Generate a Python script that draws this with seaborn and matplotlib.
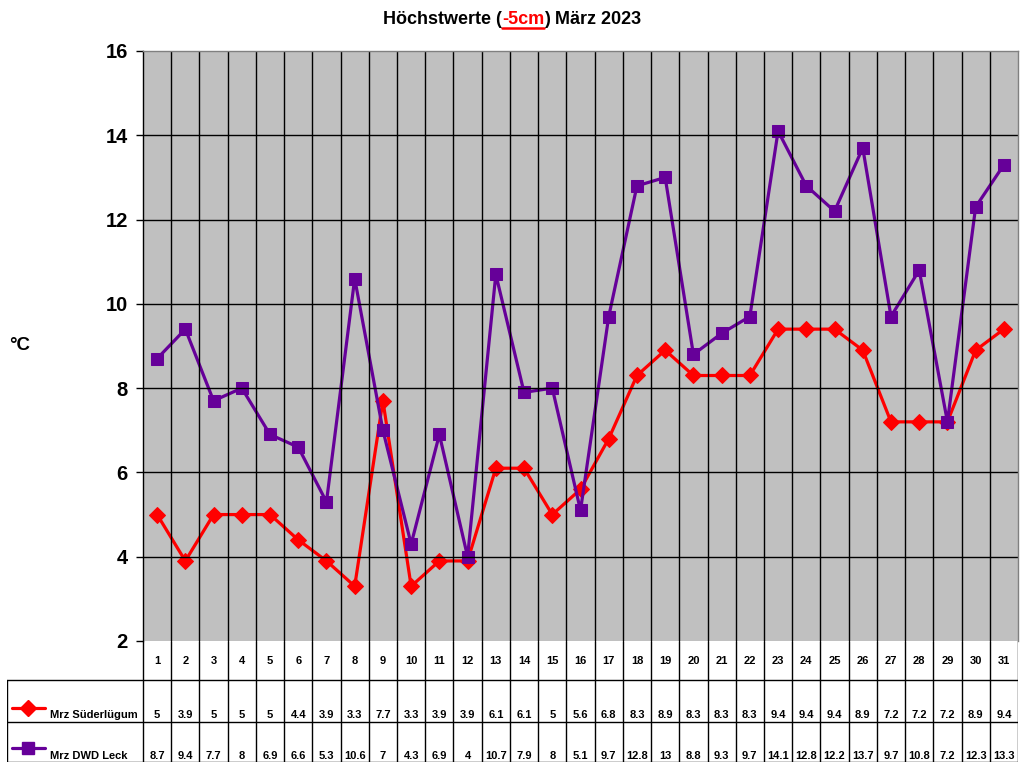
import numpy as np
import pandas as pd
import matplotlib
matplotlib.use("Agg")
import matplotlib.pyplot as plt
from matplotlib.lines import Line2D
import seaborn as sns

days = list(range(1, 32))
suederluegum = [5, 3.9, 5, 5, 5, 4.4, 3.9, 3.3, 7.7, 3.3, 3.9, 3.9, 6.1, 6.1, 5, 5.6,
                6.8, 8.3, 8.9, 8.3, 8.3, 8.3, 9.4, 9.4, 9.4, 8.9, 7.2, 7.2, 7.2, 8.9, 9.4]
dwd_leck = [8.7, 9.4, 7.7, 8, 6.9, 6.6, 5.3, 10.6, 7, 4.3, 6.9, 4, 10.7, 7.9, 8, 5.1,
            9.7, 12.8, 13, 8.8, 9.3, 9.7, 14.1, 12.8, 12.2, 13.7, 9.7, 10.8, 7.2, 12.3, 13.3]
series_names = ["Mrz Süderlügum", "Mrz DWD Leck"]
series_colors = ["#FF0000", "#660099"]
series_markers = ["D", "s"]
y_ticks = [2, 4, 6, 8, 10, 12, 14, 16]

sns.set_style("white")
plt.rcParams["font.family"] = ["Liberation Sans", "DejaVu Sans"]
plt.rcParams["font.weight"] = "bold"
plt.rcParams["text.color"] = "black"
plt.rcParams["ytick.color"] = "black"
plt.rcParams["ytick.labelcolor"] = "black"

W, H = 1024, 768
fig = plt.figure(figsize=(W / 100, H / 100), dpi=100)

# plot area in pixels
L, R, T, B = 143, 1018, 51, 641
ax = fig.add_axes([L / W, 1 - B / H, (R - L) / W, (B - T) / H])
ax.set_facecolor("#C0C0C0")

idx = np.arange(len(days))
df = pd.DataFrame({"idx": idx, series_names[0]: suederluegum, series_names[1]: dwd_leck})
msizes = [8, 8.5]
for name, col, mk, ms in zip(series_names, series_colors, series_markers, msizes):
    sns.lineplot(data=df, x="idx", y=name, ax=ax, color=col, marker=mk, markersize=ms,
                 markeredgecolor=col, linewidth=2.3, legend=False)

ax.set_xlim(-0.5, len(days) - 0.5)
ax.set_ylim(y_ticks[0], y_ticks[-1])
ax.set_yticks(y_ticks)
ax.set_yticklabels([str(t) for t in y_ticks], fontsize=14.5, fontweight="bold", color="black")
ax.set_xticks([])
ax.set_xlabel("")
ax.set_ylabel("")
ax.tick_params(axis="y", length=5, width=1, color="black", pad=6, left=True, direction="out")
for y in y_ticks[1:-1]:
    ax.axhline(y, color="black", linewidth=1)
for i in idx[:-1]:
    ax.axvline(i + 0.5, color="black", linewidth=1)
ax.spines["left"].set_color("black")
ax.spines["left"].set_linewidth(1)
for s in ["top", "right"]:
    ax.spines[s].set_color("#808080")
    ax.spines[s].set_linewidth(1)
ax.spines["bottom"].set_visible(False)

fig.text(9 / W, 1 - 346 / H, "°C", fontsize=13.5, fontweight="bold", ha="left", va="center")

# data table below the plot
TL, TB = 7, 762
tax = fig.add_axes([TL / W, 1 - TB / H, (R - TL) / W, (TB - B) / H])
unit = (R - L) / len(days)
left_x = -0.5 - (L - TL) / unit
tax.set_xlim(left_x, len(days) - 0.5)
rows = [0, 39, 81, 121]
tax.set_ylim(rows[-1], rows[0])
tax.axis("off")
lk = dict(color="black", linewidth=1)
for i in range(-1, len(days)):
    tax.plot([i + 0.5, i + 0.5], [rows[0], rows[-1]], **lk)
tax.plot([left_x, left_x], [rows[1], rows[-1]], **lk)
for r in rows[1:]:
    tax.plot([left_x, len(days) - 0.5], [r, r], **lk)
for i, d in enumerate(days):
    tax.text(i, (rows[0] + rows[1]) / 2, str(d), ha="center", va="center", fontsize=8, fontweight="bold")
for k, vals in enumerate([suederluegum, dwd_leck]):
    ytxt = rows[k + 1] + (rows[k + 2] - rows[k + 1]) * 0.84
    for i, v in enumerate(vals):
        tax.text(i, ytxt, f"{v:g}", ha="center", va="center", fontsize=8, fontweight="bold")
    yl = rows[k + 1] + (rows[k + 2] - rows[k + 1]) * 0.66
    x0 = left_x + 5 / unit
    x1 = left_x + 38 / unit
    tax.plot([x0, x1], [yl, yl], color=series_colors[k], linewidth=2.3)
    tax.plot([(x0 + x1) / 2], [yl], marker=series_markers[k], color=series_colors[k],
             markersize=msizes[k], markeredgecolor=series_colors[k])
    tax.text(left_x + 43 / unit, ytxt, series_names[k], ha="left", va="center",
             fontsize=8, fontweight="bold")

# title with red underlined part
ty = 1 - 20 / H
t1 = fig.text(383 / W, ty, "Höchstwerte (", fontsize=13, fontweight="bold", ha="left", va="center")
t2 = fig.text(0, 0, "-5cm", fontsize=13, fontweight="bold", color="#FF0000", ha="left", va="center")
t3 = fig.text(0, 0, ") März 2023", fontsize=13, fontweight="bold", ha="left", va="center")
fig.canvas.draw()
r = fig.canvas.get_renderer()
bb1 = t1.get_window_extent(r)
t2.set_position((bb1.x1 / W, ty))
fig.canvas.draw()
bb2 = t2.get_window_extent(r)
t3.set_position((bb2.x1 / W, ty))
fig.add_artist(Line2D([bb2.x0 / W, bb2.x1 / W], [(bb2.y0 + 1) / H, (bb2.y0 + 1) / H],
                      color="#FF0000", linewidth=1.8, transform=fig.transFigure))

fig.savefig("out.png", dpi=100)
